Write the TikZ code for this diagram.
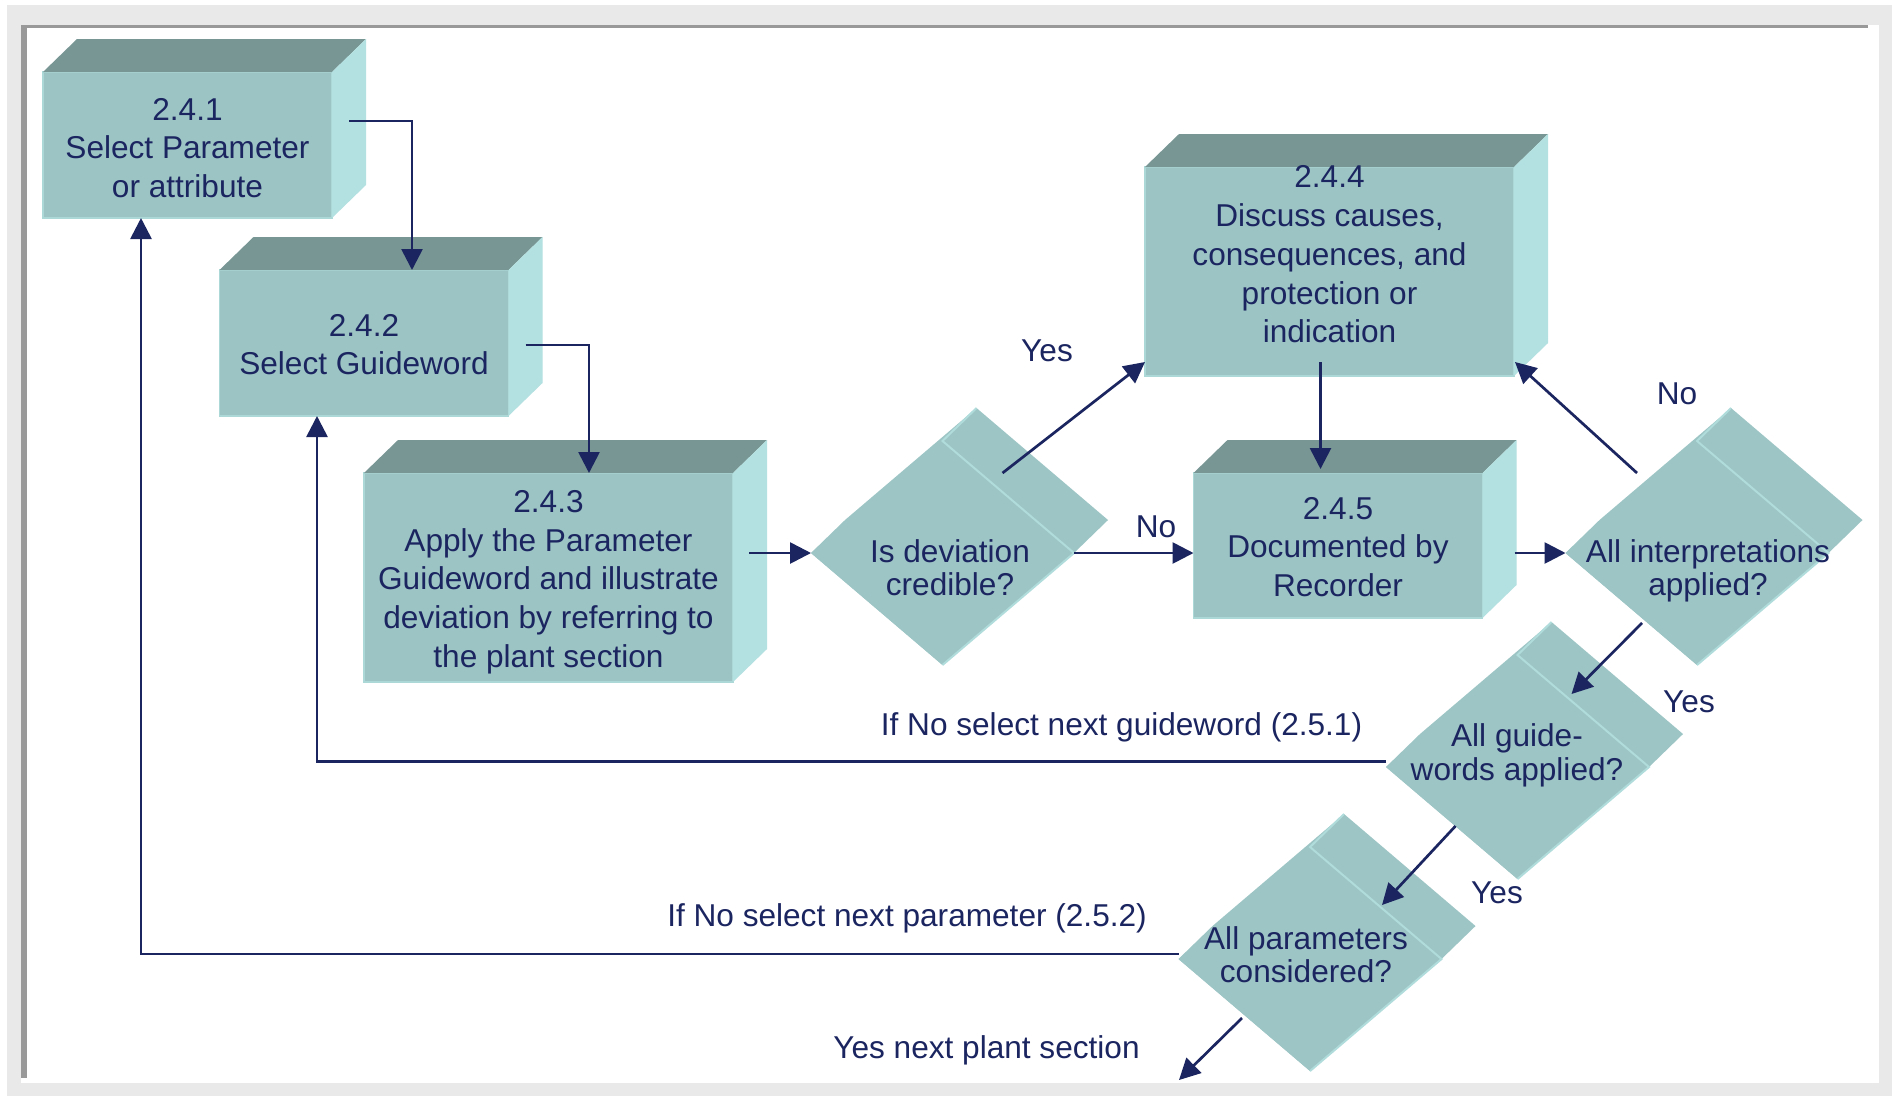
\documentclass[tikz,border=0pt]{standalone}
\usepackage{fontspec}
\setmainfont{Liberation Sans}
\usetikzlibrary{shapes.geometric,arrows.meta,calc}

\definecolor{cnavy}{HTML}{1B2560}
\definecolor{cfront}{HTML}{9CC4C4}
\definecolor{ctop}{HTML}{789694}
\definecolor{cside}{HTML}{B3E0E0}
\definecolor{cdia}{HTML}{9EC5C5}
\definecolor{clight}{HTML}{B0DCDC}
\definecolor{cframe}{HTML}{E9E9E9}
\definecolor{cframedark}{HTML}{999999}

\tikzset{
  boxtxt/.style={text=cnavy, align=center, inner sep=0pt, font=\fontsize{31.6}{38.7}\selectfont},
  smallbox/.style={rectangle, fill=cfront, draw=cside!70!cfront, line width=1.2pt, outer sep=0pt, minimum width=289pt, minimum height=146pt},
  bigbox/.style={smallbox, minimum width=369pt, minimum height=209pt},
  dia/.style={diamond, fill=cdia, inner sep=0pt, outer sep=0pt, minimum width=263pt, minimum height=224pt},
  dedge/.style={draw=clight, line width=2pt},
  diatxt/.style={text=cnavy, align=center, inner sep=0pt, font=\fontsize{31.6}{33.5}\selectfont},
  lbl/.style={text=cnavy, anchor=base, inner sep=0pt, font=\fontsize{31.6}{38}\selectfont},
  conn/.style={draw=cnavy, line width=2.7pt, -{Triangle[length=21pt,width=21pt]}}
}

\begin{document}
\begin{tikzpicture}[x={(1pt,0pt)}, y={(0pt,-1pt)}]
\useasboundingbox (0,0) rectangle (1892,1096);
% frame
\fill[cframe] (7,5) rectangle (1892,1096);
\fill[white] (21,25) rectangle (1879,1083);
\fill[cframedark] (21,25) rectangle (27,1078);
\fill[cframedark] (21,25) rectangle (1868,28);

% boxes
\node[smallbox] (b1) at (187.5,145) {};
\node[smallbox] (b2) at (364,343) {};
\node[bigbox] (b3) at (548.5,577.5) {};
\node[bigbox] (b4) at (1329.5,271.5) {};
\node[smallbox, minimum height=145pt] (b5) at (1338,545.5) {};
\foreach \b in {b1,b2,b3,b4,b5}{
  \fill[ctop] (\b.north west) -- ++(34,-33) -- ($(\b.north east)+(34,-33)$) -- (\b.north east) -- cycle;
  \fill[cside] (\b.north east) -- ++(34,-33) -- ($(\b.south east)+(34,-33)$) -- (\b.south east) -- cycle;
}
\node[boxtxt] (b1txt) at (187.5,148) {2.4.1\\Select Parameter\\or attribute};
\node[boxtxt] (b2txt) at (364,344.5) {2.4.2\\Select Guideword};
\node[boxtxt] (b3txt) at (548.5,582) {2.4.3\\Apply the Parameter\\Guideword and illustrate\\deviation by referring to\\the plant section};
\node[boxtxt] (b4txt) at (1329.5,254.5) {2.4.4\\Discuss causes,\\consequences, and\\protection or\\indication};
\node[boxtxt] (b5txt) at (1338,547) {2.4.5\\Documented by\\Recorder};

% decisions
\node[dia] (d1) at (942.5,553) {};
\node[dia] (d2) at (1697,553) {};
\node[dia] (d3) at (1517.5,767) {};
\node[dia] (d4) at (1310,959) {};
\foreach \d in {d1,d2,d3,d4}{
  \fill[cdia] (\d.west) -- ++(34,-33) -- ($(\d.north)+(34,-33)$) -- ($(\d.east)+(34,-33)$) -- (\d.east) -- (\d.south) -- cycle;
  \draw[dedge] (\d.south) -- (\d.east) -- (\d.north) -- ++(34,-33);
}
\node[diatxt] (t1) at (950,567.5) {Is deviation\\credible?};
\node[diatxt] (t2) at (1708,571) {All interpretations\\applied?};
\node[diatxt] (t3) at (1517,755.5) {All guide-\\words applied?};
\node[diatxt] (t4) at (1306,954.5) {All parameters\\considered?};

% labels
\node[lbl] (yes1) at (1047,361) {Yes};
\node[lbl] (no1) at (1156,537) {No};
\node[lbl] (no2) at (1677,404) {No};
\node[lbl] (yes2) at (1689,712) {Yes};
\node[lbl] (yes3) at (1497,903) {Yes};
\node[lbl] (nextgw) at (1121.5,735) {If No select next guideword (2.5.1)};
\node[lbl] (nextpar) at (907,926) {If No select next parameter (2.5.2)};
\node[lbl] (nextsec) at (986.5,1058) {Yes next plant section};

% connectors
\coordinate (exitpt) at (1179,1080);
\draw[conn] ($(b1.east)+(17,-24)$) -| ($(b2.north)+(48,0)$);
\draw[conn] ($(b2.east)+(17,2)$) -| ($(b3.north)+(40.5,0)$);
\draw[conn] ($(b3.east |- d1.west)+(16,0)$) -- (d1.west);
\draw[conn] ($(d1.center)+(60,-80)$) -- ($(b4.south west)+(0,-14)$);
\draw[conn] (d1.east) -- (d1.east -| b5.west);
\draw[conn] ($(b4.south)+(-9,-14)$) -- ++(0,107);
\draw[conn] ($(b5.east |- d2.west)+(32,0)$) -- (d2.west);
\draw[conn] ($(d2.center)+(-60,-80)$) -- ($(b4.south east)+(1,-14)$);
\draw[conn] ($(d2.center)+(-55,70)$) -- ($(d3.center)+(54,-73)$);
\draw[conn] ($(d3.west)+(0,-5.5)$) -| ($(b2.south)+(-47,0)$);
\draw[conn] ($(d3.center)+(-62,59)$) -- ($(d4.center)+(72,-54)$);
\draw[conn] ($(d4.west)+(0,-5)$) -| ($(b1.south)+(-46.5,0)$);
\draw[conn] ($(d4.center)+(-68,59)$) -- (exitpt);
\end{tikzpicture}
\end{document}
